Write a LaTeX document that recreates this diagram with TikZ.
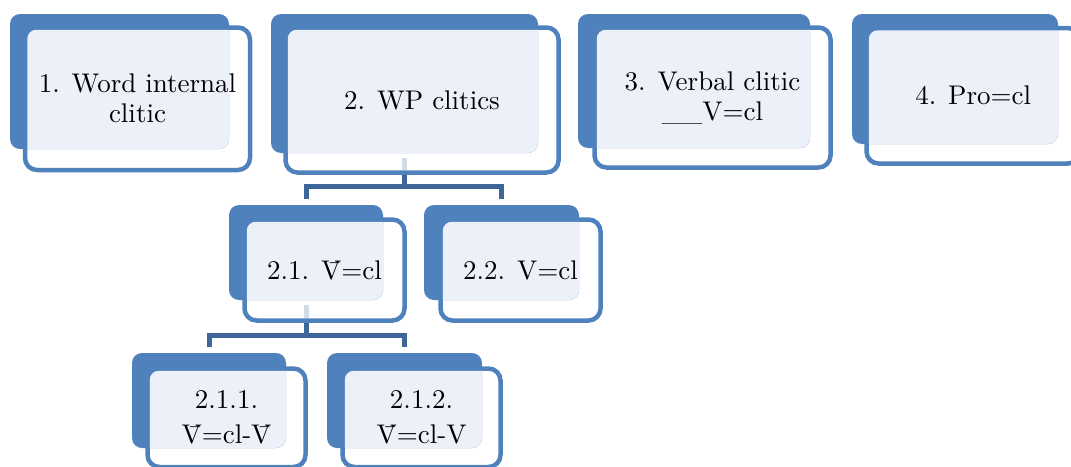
\documentclass[tikz,border=0pt]{standalone}
\usepackage{fontspec}
\usetikzlibrary{fit}
\newfontfamily\lblfont{lmroman10-regular}[Extension=.otf]
\definecolor{cblue}{HTML}{4F81BD}
\definecolor{cdark}{HTML}{3E6698}
\definecolor{clight}{HTML}{ECF0F9}
\definecolor{cfaint}{HTML}{D3DAE8}
\pgfdeclarelayer{bg}
\pgfsetlayers{bg,main}
\tikzset{
  backbox/.style={rectangle, fill=cblue, rounded corners=10pt, inner sep=0pt, outer sep=0pt},
  frontbox/.style={rectangle, draw=cblue, line width=4.5pt, fill=white, rounded corners=12pt, inner sep=0pt, outer sep=0pt},
  lbl/.style={font=\lblfont\fontsize{27}{30}\selectfont, align=center, inner sep=0pt},
  conn/.style={draw=cdark, line width=5pt},
  faintconn/.style={draw=cfaint, line width=5pt},
}
\newcommand\cllight[2]{%
  \begin{scope}
    \clip[rounded corners=10pt] (#1.north west) rectangle (#1.south east);
    \fill[clight, rounded corners=9pt] ([shift={(2.25,2.25)}]#2.north west) rectangle ([shift={(-2.25,-2.25)}]#2.south east);
  \end{scope}}
\begin{document}
\begin{tikzpicture}[x=1pt,y=-1pt]
\useasboundingbox (0,0) rectangle (1071,466);
\clip (0,0) rectangle (1071,466);

% box 1
\node[frontbox, fit={(25,27.5) (250,170)}] (f1) {};
\node[backbox, fit={(10,14) (229,149)}] (b1) {};
\cllight{b1}{f1}
\node[lbl] (t1) at (f1.center) {1. Word internal\\clitic};

% box 2
\node[frontbox, fit={(285.5,27.5) (558.5,172.5)}] (f2) {};
\node[backbox, fit={(271,14) (538,153)}] (b2) {};
\cllight{b2}{f2}
\node[lbl] (t2) at (f2.center) {2. WP clitics};

% box 3
\node[frontbox, fit={(594.5,27.5) (830.5,167.5)}] (f3) {};
\node[backbox, fit={(578,14) (810,148)}] (b3) {};
\cllight{b3}{f3}
\node[lbl] (t3) at (f3.center) {3. Verbal clitic\\\_\_V=cl};

% box 4
\node[frontbox, fit={(866.5,28) (1080,163.5)}] (f4) {};
\node[backbox, fit={(852,14) (1058,144)}] (b4) {};
\cllight{b4}{f4}
\node[lbl] (t4) at (f4.center) {4. Pro=cl};

% box 2.1
\node[frontbox, fit={(244.5,219.5) (404.5,320.5)}] (f21) {};
\node[backbox, fit={(229,205) (383,300)}] (b21) {};
\cllight{b21}{f21}
\node[lbl] (t21) at (f21.center) {2.1. \={V}=cl};

% box 2.2
\node[frontbox, fit={(440.5,219.5) (600.5,320.5)}] (f22) {};
\node[backbox, fit={(424,205) (579,300)}] (b22) {};
\cllight{b22}{f22}
\node[lbl] (t22) at (f22.center) {2.2. V=cl};

% box 2.1.1
\node[frontbox, fit={(147.5,368.5) (305.5,467)}] (f211) {};
\node[backbox, fit={(132,353) (286,448)}] (b211) {};
\cllight{b211}{f211}
\node[lbl] (t211) at (f211.center) {2.1.1.\\[5pt]\={V}=cl-\={V}};

% box 2.1.2
\node[frontbox, fit={(342.5,368.5) (500.5,467)}] (f212) {};
\node[backbox, fit={(327,353) (482,448)}] (b212) {};
\cllight{b212}{f212}
\node[lbl] (t212) at (f212.center) {2.1.2.\\[5pt]\={V}=cl-V};

% connectors
\begin{pgfonlayer}{bg}
  \draw[conn] (b2.south) -- ++(0,33) coordinate (j2);
  \draw[conn] ([yshift=6pt]b21.north) |- (j2) -| ([yshift=6pt]b22.north);
  \draw[conn] (b21.south) -- ++(0,35.5) coordinate (j21);
  \draw[conn] ([yshift=6pt]b211.north) |- (j21) -| ([yshift=6pt]b212.north);
\end{pgfonlayer}
\coordinate (e2) at (b2.south |- f2.south);
\coordinate (e21) at (b21.south |- f21.south);
\draw[faintconn] ([yshift=-5pt]b2.south) -- ([yshift=2.5pt]e2);
\draw[faintconn] ([yshift=-5pt]b21.south) -- ([yshift=2.5pt]e21);
\end{tikzpicture}
\end{document}
